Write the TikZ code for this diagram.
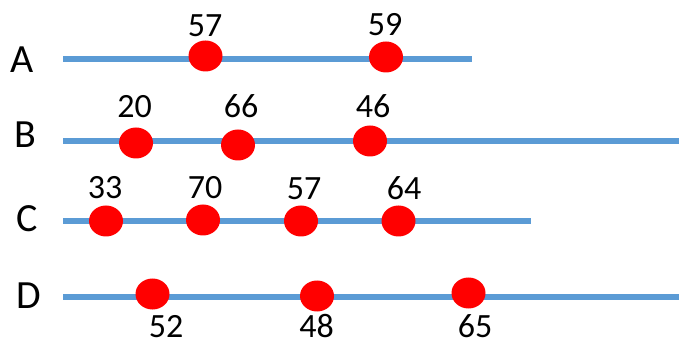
\documentclass[tikz,border=0pt]{standalone}
\usepackage{fontspec}
\setmainfont{Carlito}
\usetikzlibrary{shapes.geometric}
\definecolor{track}{HTML}{5B9BD5}
\definecolor{dotred}{HTML}{FF0000}
\tikzset{
  trackline/.style={draw=track, line width=6pt},
  dot/.style={ellipse, fill=dotred, draw=none, minimum width=34pt, minimum height=31pt, inner sep=0pt},
  rowname/.style={inner sep=0pt, anchor=base, font=\fontsize{40}{40}\selectfont},
  val/.style={inner sep=0pt, anchor=base, font=\fontsize{34}{34}\selectfont},
}
\begin{document}
\begin{tikzpicture}[x=1pt, y=-1pt]
\useasboundingbox (0,0) rectangle (679,344);

% track end points
\coordinate (a0) at (63,59);  \coordinate (a1) at (472,59);
\coordinate (b0) at (63,141); \coordinate (b1) at (679,141);
\coordinate (c0) at (63,221); \coordinate (c1) at (531,221);
\coordinate (d0) at (63,297); \coordinate (d1) at (679,297);

\draw[trackline] (a0) -- (a1);
\draw[trackline] (b0) -- (b1);
\draw[trackline] (c0) -- (c1);
\draw[trackline] (d0) -- (d1);

% row names
\node[rowname] (la) at (22.5,73) {A};
\node[rowname] (lb) at (25,148) {B};
\node[rowname] (lc) at (27.5,232) {C};
\node[rowname] (ld) at (28.5,308) {D};

% row A
\node[dot] (a57) at (205.5,56) {};
\node[dot] (a59) at (386,57) {};
\node[val] (ta57) at (205,37) {57};
\node[val] (ta59) at (385,36) {59};

% row B
\node[dot] (b20) at (136,143) {};
\node[dot] (b66) at (238,145) {};
\node[dot] (b46) at (370,141) {};
\node[val] (tb20) at (134.5,118) {20};
\node[val] (tb66) at (241,118) {66};
\node[val] (tb46) at (373,118) {46};

% row C
\node[dot] (c33) at (106,221) {};
\node[dot] (c70) at (203,220) {};
\node[dot] (c57) at (301,221) {};
\node[dot] (c64) at (398.5,221) {};
\node[val] (tc33) at (105,199) {33};
\node[val] (tc70) at (205,199) {70};
\node[val] (tc57) at (304,200) {57};
\node[val] (tc64) at (404,200) {64};

% row D
\node[dot] (d52) at (152.5,294) {};
\node[dot] (d48) at (317,296) {};
\node[dot] (d65) at (468.5,293) {};
\node[val] (td52) at (166,337) {52};
\node[val] (td48) at (316.5,337) {48};
\node[val] (td65) at (475,337) {65};
\end{tikzpicture}
\end{document}
